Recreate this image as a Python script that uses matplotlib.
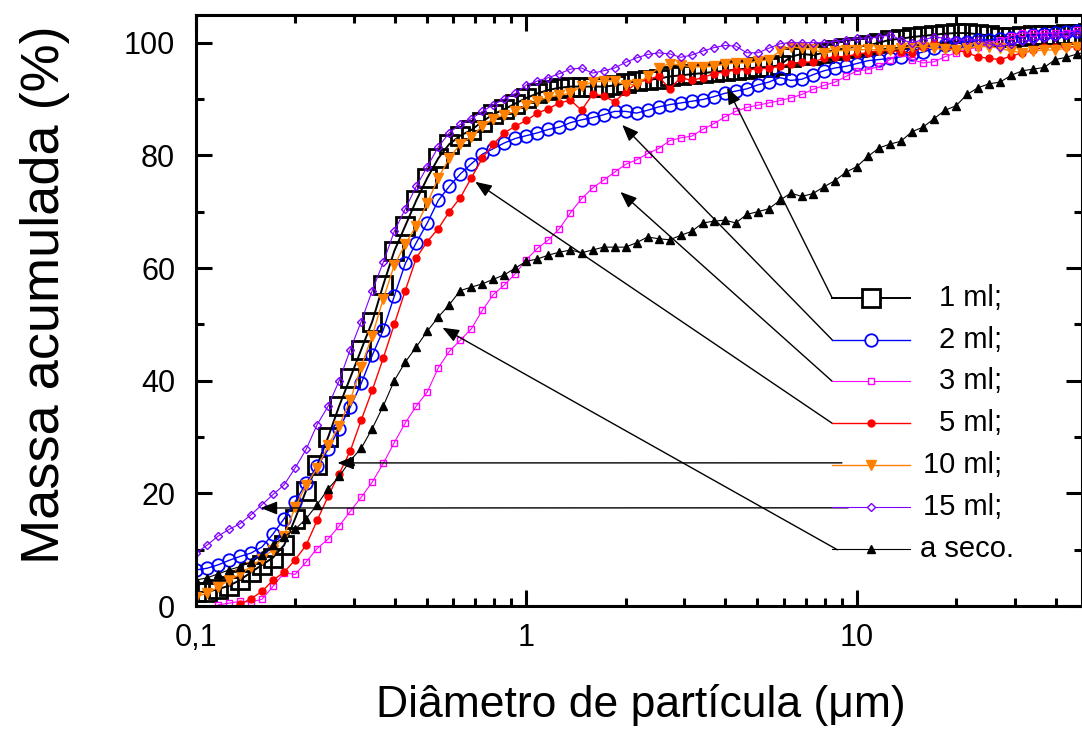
import numpy as np
import matplotlib
matplotlib.use("Agg")
import matplotlib.pyplot as plt
from matplotlib.ticker import FixedLocator, NullFormatter

plt.rcParams['font.family'] = ['Liberation Sans', 'DejaVu Sans']

nan = np.nan

# classes de diâmetro (um)
diametro = [0.1000, 0.1080, 0.1166, 0.1259, 0.1359, 0.1468, 0.1585, 0.1711, 0.1848, 0.1995,
            0.2154, 0.2326, 0.2512, 0.2712, 0.2929, 0.3162, 0.3415, 0.3687, 0.3981, 0.4299,
            0.4642, 0.5012, 0.5412, 0.5843, 0.6310, 0.6813, 0.7356, 0.7943, 0.8577, 0.9261,
            1.000, 1.080, 1.166, 1.259, 1.359, 1.468, 1.585, 1.711, 1.848, 1.995,
            2.154, 2.326, 2.512, 2.712, 2.929, 3.162, 3.415, 3.687, 3.981, 4.299,
            4.642, 5.012, 5.412, 5.843, 6.310, 6.813, 7.356, 7.943, 8.577, 9.261,
            10.00, 10.80, 11.66, 12.59, 13.59, 14.68, 15.85, 17.11, 18.48, 19.95,
            21.54, 23.26, 25.12, 27.12, 29.29, 31.62, 34.15, 36.87, 39.81, 42.99,
            46.42, 50.12]

ml1 = [2.5, 2.5, 3.0, 3.6, 4.6, 6.0, 7.3, 8.6, 10.8, 15.5,
       20.5, 25.0, 30.0, 35.5, 40.5, 45.5, 50.5, 57.0, 63.0, 67.5,
       72.0, 76.0, 79.5, 82.0, 83.5, 84.5, 86.0, 87.3, 88.2, 89.2,
       90.2, 91.0, 91.6, 92.0, 92.2, 92.2, 92.2, 92.2, 92.4, 92.8,
       93.2, 93.4, 93.6, 94.0, 94.2, 94.4, 94.6, 94.8, 95.0, 95.2,
       95.4, 95.6, 95.7, 96.0, 97.5, 98.0, 97.8, 98.2, 98.7, 99.0,
       99.3, 99.5, 100.0, 100.5, 100.7, 101.0, 101.2, 101.4, 101.6, 101.7,
       101.7, 101.5, 101.3, 101.0, 101.0, 101.2, 101.4, 101.4, 101.4, 101.5,
       101.6, 101.7]

ml2 = [6.4, 6.7, 7.3, 8.1, 8.8, 9.4, 10.5, 12.8, 15.5, 18.5,
       21.8, 24.8, 27.8, 31.5, 35.3, 39.5, 44.5, 49.0, 55.0, 60.8,
       64.5, 68.0, 72.0, 74.5, 76.7, 78.5, 80.2, 81.2, 82.2, 83.0,
       83.5, 84.0, 84.6, 85.0, 85.8, 86.3, 86.7, 87.2, 87.8, 87.8,
       87.5, 88.0, 88.6, 89.0, 89.3, 89.6, 89.9, 90.4, 91.0, 91.4,
       91.8, 92.5, 93.0, 93.8, 93.3, 93.5, 94.3, 95.0, 95.5, 95.8,
       96.3, 96.8, 97.0, 97.2, 97.5, 98.0, 98.3, 99.0, 99.5, 100.0,
       100.2, 100.4, 100.5, 100.7, 100.9, 101.0, 101.3, 101.5, 101.8, 101.9,
       102.0, 102.0]

ml3 = [nan, nan, 0.2, 0.5, 0.8, 0.7, 1.2, 3.5, 5.9, 5.6,
       7.8, 10.2, 11.9, 14.2, 16.8, 19.3, 22.0, 25.3, 29.0, 32.5,
       35.5, 38.0, 42.3, 45.2, 47.2, 49.2, 52.5, 55.3, 57.0, 59.0,
       61.5, 63.5, 65.0, 67.0, 69.8, 72.3, 74.2, 75.6, 77.0, 78.4,
       79.2, 80.3, 81.2, 82.6, 83.1, 83.4, 84.6, 85.6, 86.8, 87.8,
       88.5, 88.9, 89.3, 89.7, 90.2, 90.8, 91.7, 92.4, 93.0, 94.0,
       95.0, 95.2, 95.8, 97.0, 98.2, 97.0, 96.4, 96.6, 97.5, 98.2,
       98.8, 99.2, 99.8, 100.5, 101.2, 101.7, 101.7, 101.7, 101.7, 101.8,
       102.2, 102.4]

ml5 = [nan, nan, nan, nan, 0.3, 1.3, 2.6, 4.6, 6.0, 8.2,
       10.8, 15.2, 19.5, 23.5, 27.5, 33.0, 38.3, 44.0, 50.0, 56.0,
       61.8, 64.7, 67.0, 70.0, 72.5, 76.0, 79.5, 82.0, 84.0, 85.2,
       86.2, 87.5, 88.3, 89.3, 89.8, 88.0, 90.8, 90.6, 89.5, 91.3,
       92.8, 93.5, 94.0, 91.8, 93.8, 93.3, 93.8, 94.5, 94.8, 95.2,
       95.2, 95.3, 95.5, 95.8, 96.3, 96.5, 96.6, 97.2, 97.5, 97.5,
       98.0, 98.2, 98.5, 98.7, 98.3, 98.2, 99.2, 100.0, 99.2, 98.7,
       98.2, 97.5, 97.2, 97.0, 97.6, 98.2, 98.7, 99.2, 99.3, 99.2,
       99.3, 99.3]

ml10 = [1.6, 2.3, 3.3, 4.6, 5.6, 7.0, 8.4, 10.0, 12.5, 17.5,
        21.5, 24.5, 28.5, 32.0, 36.5, 42.5, 48.0, 54.5, 60.5, 64.2,
        67.5, 71.5, 76.0, 79.5, 82.0, 83.3, 85.2, 86.5, 87.2, 87.8,
        89.0, 89.7, 90.3, 90.7, 91.0, 92.3, 93.0, 93.2, 93.2, 92.5,
        92.6, 94.0, 95.5, 96.3, 96.0, 95.7, 95.7, 95.8, 96.2, 96.4,
        96.4, 96.7, 97.0, 98.5, 99.3, 99.0, 98.8, 98.2, 98.5, 98.7,
        98.7, 98.8, 98.7, 98.7, 99.0, 99.3, 99.3, 99.0, 98.8, 98.7,
        99.0, 99.3, 99.3, 99.0, 98.5, 98.2, 98.5, 98.7, 98.7, 99.0,
        99.3, 99.3]

ml15 = [9.4, 10.8, 12.4, 13.6, 14.6, 16.2, 18.0, 19.8, 21.5, 24.5,
        27.8, 32.2, 35.5, 40.0, 45.5, 50.5, 56.0, 61.0, 66.5, 70.5,
        74.5, 78.0, 81.5, 84.0, 85.5, 86.5, 87.8, 89.0, 90.0, 91.0,
        92.5, 93.2, 93.8, 94.5, 95.3, 95.5, 94.6, 95.0, 95.5, 96.5,
        97.3, 97.9, 98.2, 98.0, 97.4, 97.8, 98.5, 99.1, 99.5, 99.4,
        98.2, 98.2, 99.0, 99.8, 100.0, 100.0, 100.0, 100.0, 100.2, 100.5,
        100.8, 100.8, 101.0, 101.4, 100.5, 100.0, 100.5, 101.0, 100.8, 100.5,
        100.5, 100.5, 99.8, 99.3, 99.8, 100.3, 100.5, 100.8, 101.0, 101.3,
        101.7, 102.0]

seco = [4.6, 5.0, 5.7, 6.4, 7.0, 7.8, 9.0, 10.8, 12.3, 13.6,
        15.5, 18.0, 20.8, 23.0, 25.8, 28.0, 31.5, 35.5, 40.0, 43.3,
        46.0, 48.8, 51.3, 53.5, 56.0, 56.6, 57.2, 58.0, 58.8, 60.0,
        61.2, 61.6, 62.3, 62.8, 63.2, 62.7, 63.2, 63.7, 63.7, 63.7,
        64.5, 65.5, 65.2, 65.0, 65.8, 66.5, 68.0, 68.3, 68.5, 68.0,
        69.5, 70.0, 70.5, 72.0, 73.3, 72.7, 73.2, 74.4, 75.5, 77.0,
        78.0, 79.8, 81.3, 82.0, 82.5, 84.2, 85.0, 86.5, 88.0, 88.8,
        90.8, 92.0, 92.7, 93.0, 94.2, 95.0, 95.3, 95.6, 97.0, 97.4,
        98.0, 98.4]

rotulos = ["1 ml;", "2 ml;", "3 ml;", "5 ml;", "10 ml;", "15 ml;", "a seco."]

estilos = [
    dict(color='black', marker='s', ms=13, mfc='none', mew=2.0, lw=1.4),
    dict(color='#0000FF', marker='o', ms=9, mfc='none', mew=1.3, lw=1.0),
    dict(color='#FF00FF', marker='s', ms=4.5, mfc='none', mew=1.0, lw=0.8),
    dict(color='#FF0000', marker='o', ms=5, lw=1.0),
    dict(color='#FF8000', marker='v', ms=6.5, lw=1.0),
    dict(color='#8000FF', marker='D', ms=4.5, mfc='none', mew=1.0, lw=0.8),
    dict(color='black', marker='^', ms=5.5, lw=0.8),
]

dados = [ml1, ml2, ml3, ml5, ml10, ml15, seco]

# pontas das setas (dados) e inicio das linhas (fração do eixo)
setas_xy = [(4.05, 92.0), (1.95, 85.4), (1.925, 73.5), (0.70, 75.3),
            (0.268, 25.4), (0.157, 17.4), (0.557, 49.4)]
setas_ini = [(0.718, 0.521), (0.718, 0.450), (0.718, 0.380), (0.718, 0.309),
             (0.729, 0.242), (0.736, 0.166), (0.724, 0.095)]

fig = plt.figure(figsize=(10.82, 7.29), dpi=100)
ax = fig.add_axes([196 / 1082, 123 / 729, 886 / 1082, 591.5 / 729])

for y, st in zip(dados, estilos):
    ax.plot(diametro, y, **st)

ax.set_xscale('log')
ax.set_xlim(0.1, 48)
ax.set_ylim(0, 105)

ax.xaxis.set_major_locator(FixedLocator([0.1, 1, 10]))
ax.set_xticklabels(['0,1', '1', '10'])
minors = [m * d for d in (0.1, 1, 10) for m in range(2, 10) if m * d < 48]
ax.xaxis.set_minor_locator(FixedLocator(minors))
ax.xaxis.set_minor_formatter(NullFormatter())
ax.set_yticks(range(0, 101, 20))
ax.set_yticks(range(10, 101, 20), minor=True)

ax.tick_params(which='both', direction='in', top=True, right=True, width=2.2, labelsize=22)
ax.tick_params(which='major', length=11.5)
ax.tick_params(which='minor', length=5.8)
ax.tick_params(axis='x', pad=12)
ax.tick_params(axis='y', pad=15)
for sp in ax.spines.values():
    sp.set_linewidth(2.2)

ax.set_xlabel('Diâmetro de partícula (μm)', fontsize=32)
ax.xaxis.set_label_coords(0.502, -0.167)
ax.xaxis.label.set_va('center')
ax.set_ylabel('Massa acumulada (%)', fontsize=39)
ax.yaxis.set_label_coords(-0.1704, 0.526)
ax.yaxis.label.set_va('center')

# legenda desenhada à mão, como no original
leg_x = [0.718, 0.762, 0.806]
leg_y0, leg_dy = 0.521, 0.0707
for i, (rot, st) in enumerate(zip(rotulos, estilos)):
    yy = leg_y0 - i * leg_dy
    st_leg = dict(st)
    if st_leg.get('mfc') == 'none':
        st_leg['mfc'] = 'white'
    ax.plot(leg_x, [yy] * 3, transform=ax.transAxes, markevery=[1], clip_on=False, zorder=6, **st_leg)
    if rot.endswith(';'):
        ax.text(0.910, yy, rot, transform=ax.transAxes, ha='right', va='center', fontsize=21)
    else:
        ax.text(0.817, yy, rot, transform=ax.transAxes, ha='left', va='center', fontsize=21)

for xy, ini in zip(setas_xy, setas_ini):
    ax.annotate('', xy=xy, xycoords='data', xytext=ini, textcoords='axes fraction',
                arrowprops=dict(arrowstyle='-|>,head_length=0.5,head_width=0.2', color='black',
                                lw=1.0, mutation_scale=20, shrinkA=0, shrinkB=0), zorder=5)

fig.savefig('out.png', dpi=100)
